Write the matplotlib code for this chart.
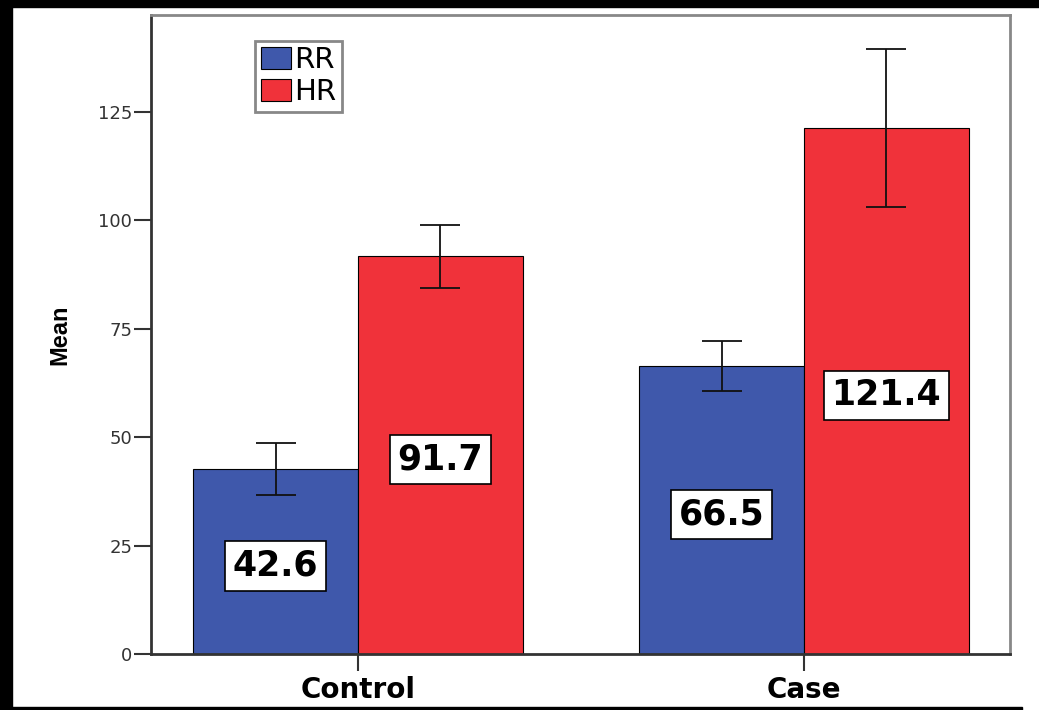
import numpy as np
import matplotlib
matplotlib.use("Agg")
import matplotlib.pyplot as plt
from matplotlib.patches import Patch, Rectangle

# data
groups = ["Control", "Case"]
series = ["RR", "HR"]
rr_mean = [42.6, 66.5]
hr_mean = [91.7, 121.4]
rr_err = [6.0, 5.8]
hr_err = [7.2, 18.2]
yticks = [0, 25, 50, 75, 100, 125]

blue = "#3F58AB"
red = "#F0323A"

fig = plt.figure(figsize=(10.39, 7.10), dpi=100)
ax = fig.add_axes([151/1039, 56/710, 859/1039, 639/710])

x = np.arange(len(groups))
w = 0.369
ekw = dict(ecolor="#111111", elinewidth=1.3, capsize=14.5, capthick=1.3)
ax.bar(x - w/2, rr_mean, w, yerr=rr_err, color=blue, edgecolor="black",
       linewidth=0.8, error_kw=ekw, label=series[0], zorder=2)
ax.bar(x + w/2, hr_mean, w, yerr=hr_err, color=red, edgecolor="black",
       linewidth=0.8, error_kw=ekw, label=series[1], zorder=2)

# value boxes, roughly at mid height of each bar
for xs, vals in [(x - w/2, rr_mean), (x + w/2, hr_mean)]:
    for xi, v in zip(xs, vals):
        ax.text(xi, v/2 - 1, f"{v:.1f}", ha="center", va="center",
                fontsize=25, fontweight="bold", family="DejaVu Sans", zorder=4,
                bbox=dict(boxstyle="square,pad=0.22", fc="white", ec="black", lw=1.2))

ax.set_xlim(-0.464, 1.462)
ax.set_ylim(0, 147.4)
ax.set_xticks(x)
ax.set_xticklabels(groups, fontsize=20, fontweight="bold", family="DejaVu Sans")
ax.set_yticks(yticks)
ax.set_yticklabels([str(t) for t in yticks], fontsize=13, family="DejaVu Sans", color="#333333")
ax.tick_params(axis="y", length=12, width=1.5, pad=1.5, color="#333333")
ax.tick_params(axis="x", length=12, width=1.5, pad=4, color="#333333")
ax.set_ylabel("Mean", fontsize=17, fontweight="bold", family="Liberation Sans")
ax.yaxis.set_label_coords(-0.093, 0.5)

for s in ["left", "bottom"]:
    ax.spines[s].set_color("#333333")
    ax.spines[s].set_linewidth(2)
for s in ["top", "right"]:
    ax.spines[s].set_color("#888888")
    ax.spines[s].set_linewidth(2)

handles = [Patch(facecolor=blue, edgecolor="black", lw=0.8),
           Patch(facecolor=red, edgecolor="black", lw=0.8)]
leg = ax.legend(handles, series, loc="upper left", bbox_to_anchor=(0.121, 0.960),
                borderaxespad=0, prop={"family": "DejaVu Sans", "size": 21},
                handlelength=1.03, handleheight=0.78, handletextpad=0.12,
                labelspacing=0.12, borderpad=0.2, fancybox=False, framealpha=1)
leg.get_frame().set_edgecolor("#888888")
leg.get_frame().set_linewidth(2)

# black frame around the picture (top, left, bottom)
fig.patches.append(Rectangle((0, 1 - 7/710), 1, 7/710, transform=fig.transFigure,
                             color="black", zorder=10))
fig.patches.append(Rectangle((0, 0), 12/1039, 1, transform=fig.transFigure,
                             color="black", zorder=10))
fig.patches.append(Rectangle((0, 0), 1022/1039, 3/710, transform=fig.transFigure,
                             color="black", zorder=10))

fig.savefig("out.png", dpi=100)
